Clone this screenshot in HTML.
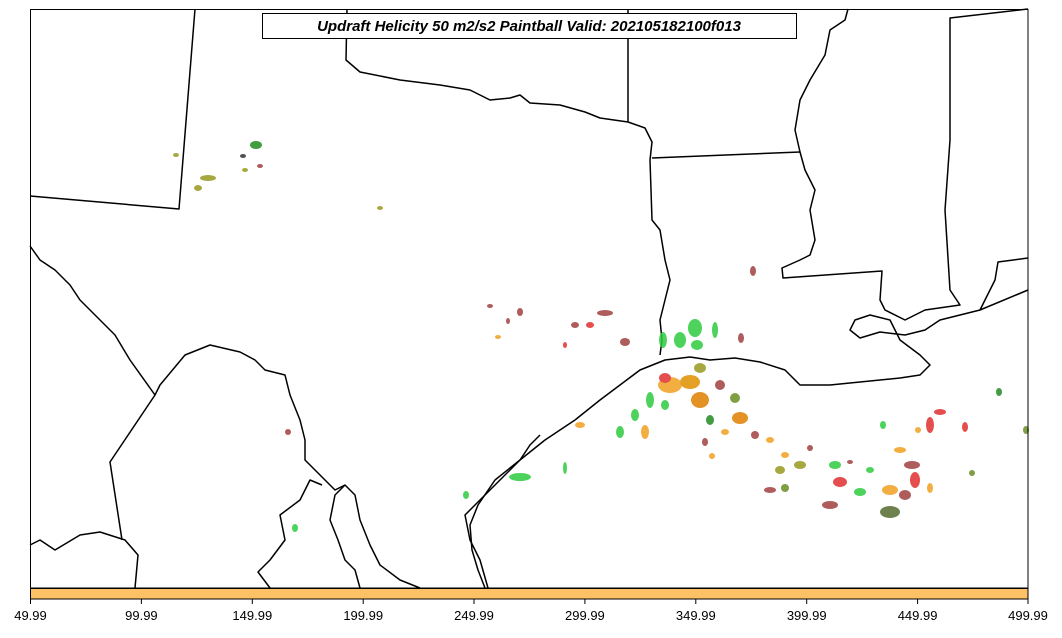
<!DOCTYPE html>
<html><head><style>
body{margin:0;background:#fff;width:1062px;height:633px;overflow:hidden;font-family:"Liberation Sans","DejaVu Sans",sans-serif}
</style></head><body>
<svg width="1062" height="633" viewBox="0 0 1062 633" xmlns="http://www.w3.org/2000/svg">
<rect x="0" y="0" width="1062" height="633" fill="#fff"/>
<g fill="none" stroke="#000" stroke-width="1.5" stroke-linejoin="round">
<polyline points="195,9 179,209 30,196"/>
<polyline points="347,9 346,60 360,72 400,80 440,85 470,90 490,100 510,98 520,95 530,103 560,105 585,112 600,118 628,122 645,128 652,142 650,160 652,220 660,230 665,260 670,280 665,300 660,320 662,340 660,355"/>
<polyline points="628,9 628,122"/>
<polyline points="652,158 800,152"/>
<polyline points="848,9 845,20 830,30 825,55 810,80 800,100 795,130 800,152 805,170 815,190 810,210 815,240 810,255 800,260 782,268 783,278 882,271 880,300 885,310 905,320 925,310 960,305 950,290 945,210 950,140 950,18 1028,9"/>
<polyline points="1028,258 998,262 995,280 985,300 980,310 1028,290"/>
<polyline points="30,246 40,260 55,270 70,285 80,300 100,320 115,335 130,360 155,395 160,385 185,355 210,345 240,352 255,360 265,370 285,375 290,395 300,420 305,440 305,460 315,470 325,480 335,490 345,485 355,495 360,520 370,545 380,565 400,580 420,588"/>
<polyline points="155,395 110,462 122,540"/>
<polyline points="30,545 40,540 55,550 80,535 100,532 125,540 138,555 135,588"/>
<polyline points="345,485 335,495 330,520 338,540 345,560 355,570 360,588"/>
<polyline points="322,485 310,480 300,500 280,515 285,540 270,560 258,572 270,588"/>
<polyline points="485,588 478,570 472,550 470,525 478,505 495,480 520,460 545,440 575,420 600,400 620,385 640,370 665,360 690,357 710,360 735,358 760,362 785,370 800,385 830,385 860,382 880,380 900,378 920,375 930,365 920,355 900,340 890,320 870,315 855,320 850,330 860,338 880,332 905,335 925,330 940,320 960,315 980,310"/>
<polyline points="540,435 530,445 520,460 500,480 480,500 465,515 470,540 480,560 488,588"/>
</g>
<g opacity="0.85">
<ellipse cx="208" cy="178" rx="8" ry="3" fill="#9a9a20"/>
<ellipse cx="198" cy="188" rx="4" ry="3" fill="#9a9a20"/>
<ellipse cx="256" cy="145" rx="6" ry="4" fill="#228B22"/>
<ellipse cx="245" cy="170" rx="3" ry="2" fill="#9a9a20"/>
<ellipse cx="260" cy="166" rx="3" ry="2" fill="#a04040"/>
<ellipse cx="243" cy="156" rx="3" ry="2" fill="#333"/>
<ellipse cx="176" cy="155" rx="3" ry="2" fill="#9a9a20"/>
<ellipse cx="380" cy="208" rx="3" ry="2" fill="#9a9a20"/>
<ellipse cx="753" cy="271" rx="3" ry="5" fill="#a04040"/>
<ellipse cx="288" cy="432" rx="3" ry="3" fill="#a04040"/>
<ellipse cx="520" cy="477" rx="11" ry="4" fill="#2ecc40"/>
<ellipse cx="466" cy="495" rx="3" ry="4" fill="#2ecc40"/>
<ellipse cx="565" cy="468" rx="2" ry="6" fill="#2ecc40"/>
<ellipse cx="295" cy="528" rx="3" ry="4" fill="#2ecc40"/>
<ellipse cx="580" cy="425" rx="5" ry="3" fill="#f0a020"/>
<ellipse cx="490" cy="306" rx="3" ry="2" fill="#a04040"/>
<ellipse cx="520" cy="312" rx="3" ry="4" fill="#a04040"/>
<ellipse cx="605" cy="313" rx="8" ry="3" fill="#a04040"/>
<ellipse cx="590" cy="325" rx="4" ry="3" fill="#e03030"/>
<ellipse cx="575" cy="325" rx="4" ry="3" fill="#a04040"/>
<ellipse cx="625" cy="342" rx="5" ry="4" fill="#a04040"/>
<ellipse cx="498" cy="337" rx="3" ry="2" fill="#f0a020"/>
<ellipse cx="508" cy="321" rx="2" ry="3" fill="#a04040"/>
<ellipse cx="565" cy="345" rx="2" ry="3" fill="#e03030"/>
<ellipse cx="695" cy="328" rx="7" ry="9" fill="#2ecc40"/>
<ellipse cx="680" cy="340" rx="6" ry="8" fill="#2ecc40"/>
<ellipse cx="697" cy="345" rx="6" ry="5" fill="#2ecc40"/>
<ellipse cx="663" cy="340" rx="4" ry="8" fill="#2ecc40"/>
<ellipse cx="715" cy="330" rx="3" ry="8" fill="#2ecc40"/>
<ellipse cx="741" cy="338" rx="3" ry="5" fill="#a04040"/>
<ellipse cx="670" cy="385" rx="12" ry="8" fill="#f0a020"/>
<ellipse cx="690" cy="382" rx="10" ry="7" fill="#e09000"/>
<ellipse cx="700" cy="400" rx="9" ry="8" fill="#e08000"/>
<ellipse cx="665" cy="378" rx="6" ry="5" fill="#e03030"/>
<ellipse cx="700" cy="368" rx="6" ry="5" fill="#9a9a20"/>
<ellipse cx="720" cy="385" rx="5" ry="5" fill="#a04040"/>
<ellipse cx="650" cy="400" rx="4" ry="8" fill="#2ecc40"/>
<ellipse cx="635" cy="415" rx="4" ry="6" fill="#2ecc40"/>
<ellipse cx="620" cy="432" rx="4" ry="6" fill="#2ecc40"/>
<ellipse cx="645" cy="432" rx="4" ry="7" fill="#f0a020"/>
<ellipse cx="665" cy="405" rx="4" ry="5" fill="#2ecc40"/>
<ellipse cx="740" cy="418" rx="8" ry="6" fill="#e08000"/>
<ellipse cx="735" cy="398" rx="5" ry="5" fill="#6b8e23"/>
<ellipse cx="710" cy="420" rx="4" ry="5" fill="#228B22"/>
<ellipse cx="705" cy="442" rx="3" ry="4" fill="#a04040"/>
<ellipse cx="725" cy="432" rx="4" ry="3" fill="#f0a020"/>
<ellipse cx="712" cy="456" rx="3" ry="3" fill="#f0a020"/>
<ellipse cx="755" cy="435" rx="4" ry="4" fill="#a04040"/>
<ellipse cx="770" cy="440" rx="4" ry="3" fill="#f0a020"/>
<ellipse cx="780" cy="470" rx="5" ry="4" fill="#9a9a20"/>
<ellipse cx="800" cy="465" rx="6" ry="4" fill="#9a9a20"/>
<ellipse cx="785" cy="455" rx="4" ry="3" fill="#f0a020"/>
<ellipse cx="770" cy="490" rx="6" ry="3" fill="#a04040"/>
<ellipse cx="785" cy="488" rx="4" ry="4" fill="#6b8e23"/>
<ellipse cx="830" cy="505" rx="8" ry="4" fill="#a04040"/>
<ellipse cx="840" cy="482" rx="7" ry="5" fill="#e03030"/>
<ellipse cx="835" cy="465" rx="6" ry="4" fill="#2ecc40"/>
<ellipse cx="860" cy="492" rx="6" ry="4" fill="#2ecc40"/>
<ellipse cx="870" cy="470" rx="4" ry="3" fill="#2ecc40"/>
<ellipse cx="890" cy="512" rx="10" ry="6" fill="#556b2f"/>
<ellipse cx="890" cy="490" rx="8" ry="5" fill="#f0a020"/>
<ellipse cx="905" cy="495" rx="6" ry="5" fill="#a04040"/>
<ellipse cx="915" cy="480" rx="5" ry="8" fill="#e03030"/>
<ellipse cx="912" cy="465" rx="8" ry="4" fill="#a04040"/>
<ellipse cx="930" cy="488" rx="3" ry="5" fill="#f0a020"/>
<ellipse cx="930" cy="425" rx="4" ry="8" fill="#e03030"/>
<ellipse cx="940" cy="412" rx="6" ry="3" fill="#e03030"/>
<ellipse cx="900" cy="450" rx="6" ry="3" fill="#f0a020"/>
<ellipse cx="918" cy="430" rx="3" ry="3" fill="#f0a020"/>
<ellipse cx="883" cy="425" rx="3" ry="4" fill="#2ecc40"/>
<ellipse cx="965" cy="427" rx="3" ry="5" fill="#e03030"/>
<ellipse cx="972" cy="473" rx="3" ry="3" fill="#6b8e23"/>
<ellipse cx="999" cy="392" rx="3" ry="4" fill="#228B22"/>
<ellipse cx="1026" cy="430" rx="3" ry="4" fill="#6b8e23"/>
<ellipse cx="810" cy="448" rx="3" ry="3" fill="#a04040"/>
<ellipse cx="850" cy="462" rx="3" ry="2" fill="#a04040"/>
</g>
<rect x="30.5" y="9.5" width="997.5" height="578.5" fill="none" stroke="#000" stroke-width="1"/>
<rect x="30.5" y="588.5" width="997.5" height="10.5" fill="#fec165" stroke="#000" stroke-width="1"/>
<g stroke="#000" stroke-width="1">
<line x1="30.5" y1="599" x2="30.5" y2="604"/><line x1="141.4" y1="599" x2="141.4" y2="604"/><line x1="252.3" y1="599" x2="252.3" y2="604"/><line x1="363.2" y1="599" x2="363.2" y2="604"/><line x1="474" y1="599" x2="474" y2="604"/><line x1="584.9" y1="599" x2="584.9" y2="604"/><line x1="695.8" y1="599" x2="695.8" y2="604"/><line x1="806.7" y1="599" x2="806.7" y2="604"/><line x1="917.6" y1="599" x2="917.6" y2="604"/><line x1="1028" y1="599" x2="1028" y2="604"/>
</g>
<g font-size="13" text-anchor="middle" fill="#000">
<text x="30.5" y="620">49.99</text><text x="141.4" y="620">99.99</text><text x="252.3" y="620">149.99</text><text x="363.2" y="620">199.99</text><text x="474" y="620">249.99</text><text x="584.9" y="620">299.99</text><text x="695.8" y="620">349.99</text><text x="806.7" y="620">399.99</text><text x="917.6" y="620">449.99</text><text x="1028" y="620">499.99</text>
</g>
<rect x="262.5" y="13.5" width="534" height="25" fill="#fff" stroke="#000" stroke-width="1"/>
<text x="529" y="31" font-size="15" font-weight="bold" font-style="italic" text-anchor="middle">Updraft Helicity 50 m2/s2 Paintball Valid: 202105182100f013</text>
</svg>
</body></html>
